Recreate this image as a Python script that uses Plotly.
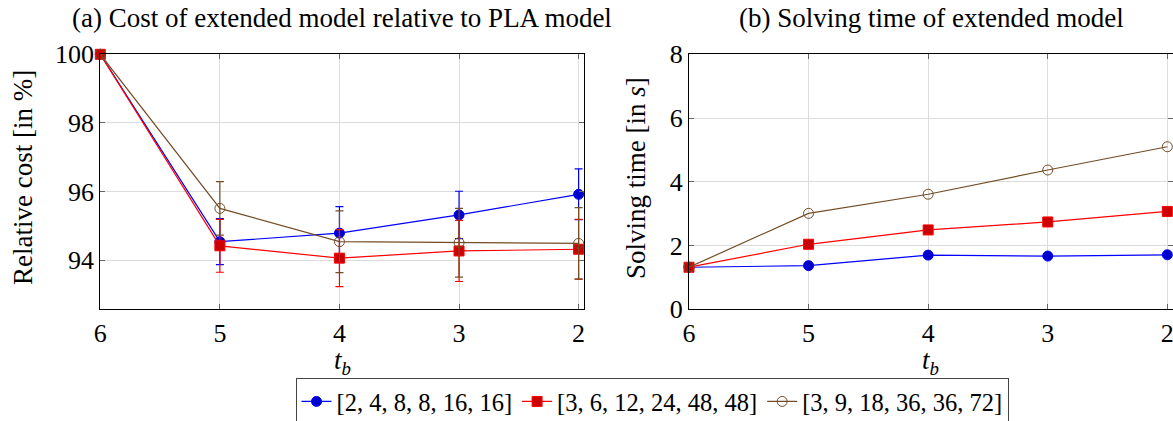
import plotly.graph_objects as go

tb = [6, 5, 4, 3, 2]
tick_vals = [6, 5, 4, 3, 2]

names = ["[2, 4, 8, 8, 16, 16]", "[3, 6, 12, 24, 48, 48]", "[3, 9, 18, 36, 36, 72]"]

cost_blue = [100, 94.54, 94.79, 95.32, 95.92]
cost_red = [100, 94.42, 94.06, 94.27, 94.32]
cost_brown = [100, 95.51, 94.54, 94.51, 94.49]

err_blue = [0, 0.67, 0.77, 0.69, 0.74]
err_red = [0, 0.77, 0.83, 0.89, 0.87]
err_brown = [0, 0.78, 0.90, 1.00, 1.04]

time_blue = [1.32, 1.37, 1.70, 1.67, 1.71]
time_red = [1.32, 2.04, 2.49, 2.74, 3.07]
time_brown = [1.32, 3.01, 3.61, 4.37, 5.10]

BLUE = "rgb(0,0,255)"
BLUE_F = "rgb(0,0,204)"
RED = "rgb(255,0,0)"
RED_F = "rgb(204,0,0)"
BROWN = "rgb(115,77,38)"

FONT = "Liberation Serif"
W, H = 1173, 421

styles = [
    dict(color=BLUE, marker=dict(symbol="circle", size=10, color=BLUE_F, line=dict(color=BLUE, width=1))),
    dict(color=RED, marker=dict(symbol="square", size=10, color=RED_F, line=dict(color=RED, width=1))),
    dict(color=BROWN, marker=dict(symbol="circle-open", size=10, color=BROWN, line=dict(color=BROWN, width=1))),
]

fig = go.Figure()

for i, (y, e) in enumerate([(cost_blue, err_blue), (cost_red, err_red), (cost_brown, err_brown)]):
    s = styles[i]
    fig.add_trace(go.Scatter(
        x=tb, y=y, name=names[i], mode="lines+markers",
        line=dict(color=s["color"], width=1.2), marker=s["marker"],
        error_y=dict(type="data", array=e, visible=True, color=s["color"], thickness=1.2, width=4),
        cliponaxis=False, xaxis="x", yaxis="y", showlegend=True,
    ))

for i, y in enumerate([time_blue, time_red, time_brown]):
    s = styles[i]
    fig.add_trace(go.Scatter(
        x=tb, y=y, name=names[i], mode="lines+markers",
        line=dict(color=s["color"], width=1.2), marker=s["marker"],
        cliponaxis=False, xaxis="x2", yaxis="y2", showlegend=False,
    ))

axis_common = dict(
    showline=True, linecolor="black", linewidth=1.2, mirror="allticks",
    ticks="inside", ticklen=5, tickcolor="#666", tickwidth=1,
    showgrid=True, gridcolor="#dcdcdc", gridwidth=1, zeroline=False,
    tickfont=dict(family=FONT, size=26, color="black"),
    automargin=False, ticklabeloverflow="allow",
)

fig.update_layout(
    width=W, height=H,
    margin=dict(l=0, r=0, t=0, b=0, autoexpand=False),
    paper_bgcolor="white", plot_bgcolor="white",
    font=dict(family=FONT, color="black"),
    xaxis=dict(domain=[100.3 / W, 584 / W], range=[6, 1.955], tickvals=tick_vals, anchor="y", **axis_common),
    yaxis=dict(domain=[1 - 309.3 / H, 1 - 54.3 / H], range=[92.57, 100], tickvals=[94, 96, 98, 100], anchor="x", **axis_common),
    xaxis2=dict(domain=[689 / W, 1172.7 / W], range=[6, 1.955], tickvals=tick_vals, anchor="y2", **axis_common),
    yaxis2=dict(domain=[1 - 309.3 / H, 1 - 54.3 / H], range=[0, 8], tickvals=[0, 2, 4, 6, 8], anchor="x2", **axis_common),
    legend=dict(
        orientation="h", x=652 / W, y=1 - 378 / H, xanchor="center", yanchor="top",
        bordercolor="#444", borderwidth=1, bgcolor="white",
        font=dict(family=FONT, size=24.5, color="black"),
        itemwidth=30, tracegroupgap=0,
    ),
    showlegend=True,
)

ann = dict(xref="paper", yref="paper", showarrow=False, font=dict(family=FONT, size=27, color="black"))
fig.add_annotation(text="(a) Cost of extended model relative to PLA model", x=342 / W, y=1 - 18 / H,
                   xanchor="center", yanchor="middle", **ann)
fig.add_annotation(text="(b) Solving time of extended model", x=931 / W, y=1 - 18 / H,
                   xanchor="center", yanchor="middle", **ann)
fig.add_annotation(text="<i>t</i><sub><i>b</i></sub>", x=342 / W, y=1 - 362 / H,
                   xanchor="center", yanchor="middle", **ann)
fig.add_annotation(text="<i>t</i><sub><i>b</i></sub>", x=930 / W, y=1 - 362 / H,
                   xanchor="center", yanchor="middle", **ann)
fig.add_annotation(text="Relative cost [in %]", x=23 / W, y=1 - 178 / H, textangle=-90,
                   xanchor="center", yanchor="middle", **ann)
fig.add_annotation(text="Solving time [in <i>s</i>]", x=636 / W, y=1 - 178 / H, textangle=-90,
                   xanchor="center", yanchor="middle", **ann)

fig.write_html("out.html")
